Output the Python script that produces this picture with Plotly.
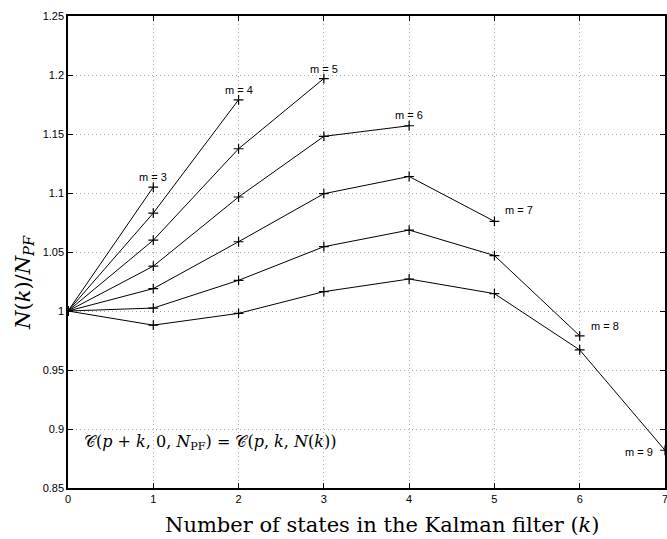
import plotly.graph_objects as go

# Data
m_values = [3, 4, 5, 6, 7, 8, 9]
k_states = [0, 1, 2, 3, 4, 5, 6, 7]
ratio_m3 = [1.0, 1.105]
ratio_m4 = [1.0, 1.083, 1.179]
ratio_m5 = [1.0, 1.060, 1.1375, 1.197]
ratio_m6 = [1.0, 1.038, 1.0966, 1.148, 1.157]
ratio_m7 = [1.0, 1.019, 1.0587, 1.0994, 1.114, 1.076]
ratio_m8 = [1.0, 1.0025, 1.026, 1.0545, 1.0686, 1.047, 0.979]
ratio_m9 = [1.0, 0.988, 0.998, 1.0164, 1.0271, 1.0147, 0.967, 0.882]
series = [ratio_m3, ratio_m4, ratio_m5, ratio_m6, ratio_m7, ratio_m8, ratio_m9]

x_ticks = [0, 1, 2, 3, 4, 5, 6, 7]
y_ticks = [0.85, 0.9, 0.95, 1.0, 1.05, 1.1, 1.15, 1.2, 1.25]
y_ticktext = ["0.85", "0.9", "0.95", "1", "1.05", "1.1", "1.15", "1.2", "1.25"]

# label pixel offsets relative to each series' last point
label_shift = {3: (0, 10), 4: (0, 10), 5: (0, 10), 6: (0, 11), 7: (25, 11), 8: (25, 10), 9: (-26, -2)}

sans = "Liberation Sans, Arial, sans-serif"
serif = "DejaVu Serif, Liberation Serif, serif"

fig = go.Figure()
annotations = []
for m, vals in zip(m_values, series):
    ks = k_states[:len(vals)]
    fig.add_trace(go.Scatter(
        x=ks, y=vals, mode="lines+markers",
        line=dict(color="black", width=1),
        marker=dict(symbol="cross-thin", size=7, line=dict(color="black", width=1.2)),
        showlegend=False, cliponaxis=True,
    ))
    dx, dy = label_shift[m]
    annotations.append(dict(
        x=ks[-1], y=vals[-1], xref="x", yref="y", text=f"m = {m}",
        showarrow=False, xshift=dx, yshift=dy,
        font=dict(family=sans, size=11, color="black"),
        xanchor="center", yanchor="middle",
    ))

# x tick label at the clipped right edge
annotations.append(dict(
    x=x_ticks[-1], y=0, xref="x", yref="paper", text=str(x_ticks[-1]),
    showarrow=False, xanchor="center", yanchor="top", yshift=-3,
    font=dict(family=sans, size=11, color="black"),
))

annotations.append(dict(
    x=0.023, y=0.097, xref="paper", yref="paper",
    text="𝒞(<i>p</i> + <i>k</i>, 0, <i>N</i><sub>PF</sub>) = 𝒞(<i>p</i>, <i>k</i>, <i>N</i>(<i>k</i>))",
    showarrow=False, xanchor="left", yanchor="middle",
    font=dict(family=serif, size=16, color="black"),
))
annotations.append(dict(
    x=-0.075, y=0.435, xref="paper", yref="paper",
    text="<i>N</i>(<i>k</i>)/<i>N</i><sub><i>PF</i></sub>",
    showarrow=False, textangle=-90, xanchor="center", yanchor="middle",
    font=dict(family=serif, size=21, color="black"),
))
annotations.append(dict(
    x=0.527, y=-0.079, xref="paper", yref="paper",
    text="Number of states in the Kalman filter (<i>k</i>)",
    showarrow=False, xanchor="center", yanchor="middle",
    font=dict(family=serif, size=21, color="black"),
))

axis_common = dict(
    showline=True, linecolor="black", linewidth=1.5, mirror="ticks",
    ticks="inside", ticklen=5, tickcolor="black", tickwidth=1,
    showgrid=True, gridcolor="#a8a8a8", griddash="1px,3px", gridwidth=1,
    zeroline=False,
    tickfont=dict(family=sans, size=11, color="black"),
)

fig.update_layout(
    width=667, height=539,
    margin=dict(l=68, r=0, t=16, b=51),
    paper_bgcolor="white", plot_bgcolor="white",
    xaxis=dict(range=[0, 7], tickvals=x_ticks, ticktext=[str(v) for v in x_ticks], **axis_common),
    yaxis=dict(range=[0.85, 1.25], tickvals=y_ticks, ticktext=y_ticktext, **axis_common),
    annotations=annotations,
)

fig.write_html("out.html")
